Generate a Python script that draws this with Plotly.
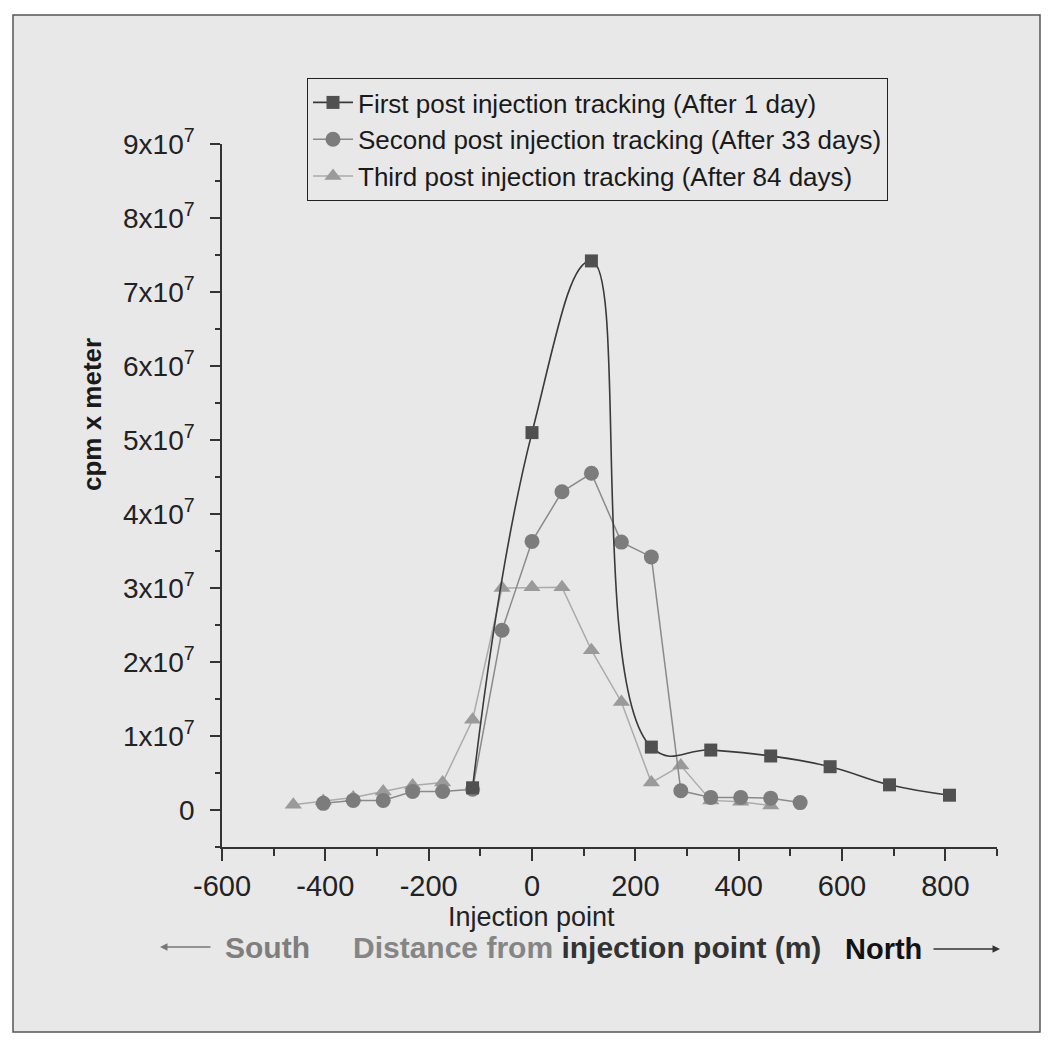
import plotly.graph_objects as go

# ---- data (distance in m, activity in cpm x meter) ----
first_x = [-115, 0, 115, 231, 346, 462, 577, 692, 808]
first_y = [0.30e7, 5.10e7, 7.42e7, 0.85e7, 0.81e7, 0.73e7, 0.585e7, 0.34e7, 0.20e7]

second_x = [-404, -346, -288, -231, -173, -115, -58, 0, 58, 115, 173, 231, 288, 346, 404, 462, 519]
second_y = [0.09e7, 0.13e7, 0.13e7, 0.25e7, 0.25e7, 0.28e7, 2.43e7, 3.63e7, 4.30e7, 4.55e7,
            3.62e7, 3.42e7, 0.26e7, 0.17e7, 0.17e7, 0.16e7, 0.10e7]

third_x = [-462, -404, -346, -288, -231, -173, -115, -58, 0, 58, 115, 173, 231, 288, 346, 404, 462]
third_y = [0.07e7, 0.12e7, 0.17e7, 0.25e7, 0.33e7, 0.37e7, 1.22e7, 3.00e7, 3.01e7, 3.01e7,
           2.16e7, 1.46e7, 0.37e7, 0.60e7, 0.13e7, 0.11e7, 0.06e7]

names = ["First post injection tracking (After 1 day)",
         "Second post injection tracking (After 33 days)",
         "Third post injection tracking (After 84 days)"]

y_tickvals = [0, 1e7, 2e7, 3e7, 4e7, 5e7, 6e7, 7e7, 8e7, 9e7]
y_ticktext = ["0"] + [f"{i}x10<sup>7</sup>" for i in range(1, 10)]
x_tickvals = [-600, -400, -200, 0, 200, 400, 600, 800]
x_ticktext = ["-600", "-400", "-200", "0", "200", "400", "600", "800"]

BG = "#e8e8e8"
FONT = "Liberation Sans, Arial, sans-serif"

fig = go.Figure()
fig.add_trace(go.Scatter(
    x=third_x, y=third_y, name=names[2], mode="lines+markers",
    line=dict(color="#ababab", width=1.5),
    marker=dict(symbol="triangle-up", size=15, color="#9a9a9a"),
    legendrank=3))
fig.add_trace(go.Scatter(
    x=second_x, y=second_y, name=names[1], mode="lines+markers",
    line=dict(color="#8a8a8a", width=1.5),
    marker=dict(symbol="circle", size=15, color="#7c7c7c"),
    legendrank=2))
fig.add_trace(go.Scatter(
    x=first_x, y=first_y, name=names[0], mode="lines+markers",
    line=dict(color="#3a3a3a", width=1.6, shape="spline", smoothing=1.3),
    marker=dict(symbol="square", size=13, color="#505050"),
    legendrank=1))

OFF = 8  # page body margin
W, H = 1045, 1040
L, T = 222 - OFF, 144 - OFF
R = W - (997 - OFF)
B = H - (847 - OFF)
pw, ph = W - L - R, H - T - B


def px_x(p):
    return (p - OFF - L) / pw


def px_y(p):
    return (H - B - (p - OFF)) / ph


fig.update_layout(
    width=W, height=H,
    margin=dict(l=L, r=R, t=T, b=B),
    paper_bgcolor="white",
    plot_bgcolor="rgba(0,0,0,0)",
    font=dict(family=FONT, color="#222222"),
    showlegend=True,
    legend=dict(
        x=px_x(307), y=px_y(78), xanchor="left", yanchor="top",
        bgcolor=BG, bordercolor="#222222", borderwidth=1,
        font=dict(size=26, family=FONT, color="#1a1a1a"),
        itemwidth=40, tracegroupgap=0,
    ),
    xaxis=dict(
        range=[-600, 900], tickvals=x_tickvals, ticktext=x_ticktext,
        showgrid=False, zeroline=False,
        showline=True, linecolor="#333333", linewidth=1.5,
        ticks="outside", ticklen=12, tickwidth=1.5, tickcolor="#333333",
        minor=dict(dtick=100, tick0=-600, ticks="outside", ticklen=7, tickwidth=1.5, tickcolor="#333333"),
        tickfont=dict(size=29, family=FONT, color="#222222"),
    ),
    yaxis=dict(
        range=[-0.5e7, 9e7], tickvals=y_tickvals, ticktext=y_ticktext,
        showgrid=False, zeroline=False,
        showline=True, linecolor="#333333", linewidth=1.5,
        ticks="outside", ticklen=10, tickwidth=1.5, tickcolor="#333333",
        ticklabelstandoff=10,
        minor=dict(dtick=0.5e7, tick0=0, ticks="outside", ticklen=5, tickwidth=1.5, tickcolor="#333333"),
        tickfont=dict(size=28, family=FONT, color="#222222"),
    ),
)

# figure frame / background
fig.add_shape(type="rect", xref="paper", yref="paper",
              x0=px_x(13), x1=px_x(1040), y0=px_y(1032), y1=px_y(15),
              fillcolor=BG, line=dict(color="#555555", width=1.5), layer="below")

# y-axis title
fig.add_annotation(text="<b>cpm x meter</b>", xref="paper", yref="paper",
                   x=px_x(92), y=px_y(415), xanchor="center", yanchor="middle",
                   textangle=-90, showarrow=False,
                   font=dict(size=26, family=FONT, color="#1a1a1a"))

# x labels
fig.add_annotation(text="Injection point", xref="paper", yref="paper",
                   x=px_x(531), y=px_y(917), xanchor="center", yanchor="middle", showarrow=False,
                   font=dict(size=27, family=FONT, color="#222222"))
fig.add_annotation(text="<b>South</b>", xref="paper", yref="paper",
                   x=px_x(267), y=px_y(947), xanchor="center", yanchor="middle", showarrow=False,
                   font=dict(size=30, family=FONT, color="#7e7e7e"))
fig.add_annotation(text="<b><span style='color:#858585'>Distance from</span> injection point (m)</b>",
                   xref="paper", yref="paper",
                   x=px_x(587), y=px_y(947), xanchor="center", yanchor="middle", showarrow=False,
                   font=dict(size=30, family=FONT, color="#333333"))
fig.add_annotation(text="<b>North</b>", xref="paper", yref="paper",
                   x=px_x(883), y=px_y(949), xanchor="center", yanchor="middle", showarrow=False,
                   font=dict(size=29, family=FONT, color="#111111"))
# arrows
fig.add_annotation(text="", xref="paper", yref="paper", x=px_x(160), y=px_y(947),
                   ax=52, ay=0, showarrow=True, arrowhead=2, arrowsize=1, arrowwidth=1.5,
                   arrowcolor="#777777")
fig.add_annotation(text="", xref="paper", yref="paper", x=px_x(1000), y=px_y(949),
                   ax=-68, ay=0, showarrow=True, arrowhead=2, arrowsize=1, arrowwidth=1.5,
                   arrowcolor="#333333")

fig.write_html("out.html")
